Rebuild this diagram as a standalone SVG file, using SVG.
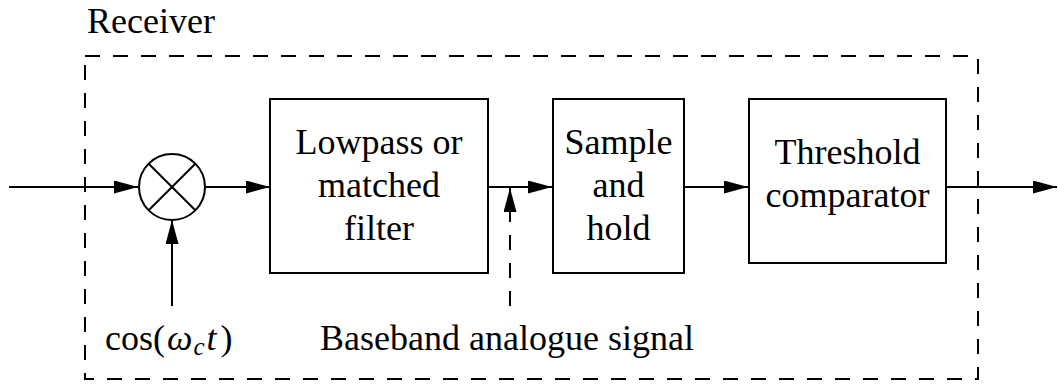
<svg xmlns="http://www.w3.org/2000/svg" width="1058" height="385" viewBox="0 0 1058 385">
<style>
text{font-family:'Liberation Serif','Times New Roman',serif;font-size:36px;fill:#000}
.box{fill:#fff;stroke:#000;stroke-width:2}
.ln{fill:none;stroke:#000;stroke-width:2}
.dash{fill:none;stroke:#000;stroke-width:2;stroke-dasharray:15 13}
</style>
<defs>
<marker id="ah" markerUnits="userSpaceOnUse" markerWidth="26" markerHeight="14" refX="24" refY="6.5" orient="auto">
<path d="M0,0 L24,6.5 L0,13 z" fill="#000"/>
</marker>
</defs>
<rect width="1058" height="385" fill="#fff"/>
<g id="receiver">
<rect x="85" y="56" width="893" height="323" class="dash"/>
<text x="87" y="33">Receiver</text>
</g>
<g id="connectors">
<line x1="9" y1="187" x2="138" y2="187" class="ln" marker-end="url(#ah)"/>
<line x1="205" y1="187" x2="270" y2="187" class="ln" marker-end="url(#ah)"/>
<line x1="172" y1="306" x2="172" y2="220" class="ln" marker-end="url(#ah)"/>
<line x1="488" y1="187" x2="552" y2="187" class="ln" marker-end="url(#ah)"/>
<line x1="510" y1="306" x2="510" y2="210" class="dash"/>
<line x1="510" y1="212" x2="510" y2="188" class="ln" marker-end="url(#ah)"/>
<line x1="684" y1="187" x2="748" y2="187" class="ln" marker-end="url(#ah)"/>
<line x1="946" y1="187" x2="1057" y2="187" class="ln" marker-end="url(#ah)"/>
</g>
<g id="mixer">
<circle cx="172" cy="187" r="33" class="box"/>
<line x1="148.7" y1="163.7" x2="195.3" y2="210.3" class="ln"/>
<line x1="195.3" y1="163.7" x2="148.7" y2="210.3" class="ln"/>
</g>
<g id="lowpass">
<rect x="270" y="99" width="218" height="174" class="box"/>
<text x="379" y="154" text-anchor="middle">Lowpass or</text>
<text x="379" y="197" text-anchor="middle">matched</text>
<text x="379" y="240" text-anchor="middle">filter</text>
</g>
<g id="samplehold">
<rect x="553" y="99" width="131" height="174" class="box"/>
<text x="618.5" y="154" text-anchor="middle">Sample</text>
<text x="618.5" y="197" text-anchor="middle">and</text>
<text x="618.5" y="240" text-anchor="middle">hold</text>
</g>
<g id="threshold">
<rect x="749" y="99" width="197" height="164" class="box"/>
<text x="847.5" y="164" text-anchor="middle">Threshold</text>
<text x="847.5" y="207" text-anchor="middle">comparator</text>
</g>
<g id="labels">
<text x="105" y="350">cos(<tspan font-style="italic" dx="2">ω</tspan><tspan font-style="italic" font-size="25" dy="5" dx="1">c</tspan><tspan font-style="italic" dy="-5" dx="2">t</tspan><tspan dx="4">)</tspan></text>
<text x="320" y="350">Baseband analogue signal</text>
</g>
</svg>
